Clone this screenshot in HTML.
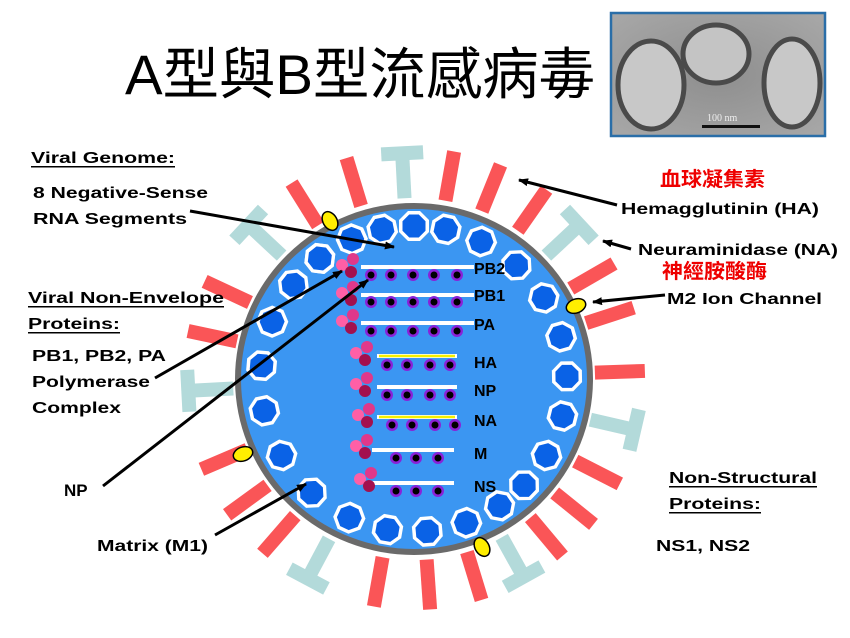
<!DOCTYPE html>
<html><head><meta charset="utf-8"><style>
html,body{margin:0;padding:0;background:#fff;}
svg{display:block}
text{font-family:"Liberation Sans",Arial,sans-serif;font-weight:bold;fill:#000}
.cjk{font-family:"Liberation Sans","Noto Sans CJK TC",sans-serif;}
</style></head><body>
<svg width="850" height="638" viewBox="0 0 850 638" xmlns="http://www.w3.org/2000/svg">
<defs>
  <g id="red"><rect x="407" y="148" width="14" height="50" fill="#fa5557"/></g>
  <g id="teal"><rect x="407" y="158" width="14" height="40" fill="#b3dada"/><rect x="393" y="146" width="42" height="14" fill="#b3dada"/></g>
  <g id="oct">
    <polygon points="408,211 420,211 429,220 429,232 420,241 408,241 399,232 399,220" fill="#fff"/>
    <polygon points="409,214 419,214 426,221 426,231 419,238 409,238 402,231 402,221" fill="#0a62e6" stroke="#fff" stroke-width="1"/>
  </g>
  <g id="dot"><circle r="6" fill="#8a22d8"/><circle r="3.5" fill="#000"/></g>
  <g id="cl"><circle cx="-6" cy="0" r="6" fill="#ff5fa6"/><circle cx="5" cy="-6" r="6" fill="#e0388a"/><circle cx="3" cy="7" r="6" fill="#a3104e"/></g>
  <marker id="ah" markerWidth="10" markerHeight="8" refX="9" refY="4" orient="auto" markerUnits="userSpaceOnUse"><path d="M0,0 L10,4 L0,8 Z" fill="#000"/></marker>
  <radialGradient id="pg" cx="50%" cy="50%" r="70%"><stop offset="0" stop-color="#8e8e8e"/><stop offset="1" stop-color="#a8a8a8"/></radialGradient>
</defs>

<text x="125" y="94" class="cjk" style="font-weight:normal;font-size:56px" textLength="470" lengthAdjust="spacingAndGlyphs">A型與B型流感病毒</text>

<rect x="611" y="13" width="214" height="123" fill="url(#pg)" stroke="#2a6ea8" stroke-width="2.5"/>
<ellipse cx="651" cy="85" rx="33" ry="44" fill="#c8c8c8" stroke="#4a4a4a" stroke-width="5"/>
<ellipse cx="716" cy="54" rx="33" ry="29" fill="#c4c4c4" stroke="#4a4a4a" stroke-width="5"/>
<ellipse cx="792" cy="83" rx="28" ry="44" fill="#c8c8c8" stroke="#4a4a4a" stroke-width="5"/>
<text x="707" y="121" style="font-family:'Liberation Serif',serif;font-weight:normal;font-size:10px;fill:#eee">100 nm</text>
<rect x="702" y="125" width="58" height="3" fill="#111"/>

<g>
<use href="#teal" transform="rotate(-3 414 379)"/>
<use href="#teal" transform="rotate(47 414 379)"/>
<use href="#teal" transform="rotate(103 414 379)"/>
<use href="#teal" transform="rotate(151 414 379)"/>
<use href="#teal" transform="rotate(208 414 379)"/>
<use href="#teal" transform="rotate(267 414 379)"/>
<use href="#teal" transform="rotate(313 414 379)"/>
<use href="#red" transform="rotate(-17 414 379)"/>
<use href="#red" transform="rotate(-32 414 379)"/>
<use href="#red" transform="rotate(10 414 379)"/>
<use href="#red" transform="rotate(22 414 379)"/>
<use href="#red" transform="rotate(35 414 379)"/>
<use href="#red" transform="rotate(60 414 379)"/>
<use href="#red" transform="rotate(72 414 379)"/>
<use href="#red" transform="rotate(88 414 379)"/>
<use href="#red" transform="rotate(117 414 379)"/>
<use href="#red" transform="rotate(129 414 379)"/>
<use href="#red" transform="rotate(140 414 379)"/>
<use href="#red" transform="rotate(163 414 379)"/>
<use href="#red" transform="rotate(176 414 379)"/>
<use href="#red" transform="rotate(190 414 379)"/>
<use href="#red" transform="rotate(221 414 379)"/>
<use href="#red" transform="rotate(234 414 379)"/>
<use href="#red" transform="rotate(247 414 379)"/>
<use href="#red" transform="rotate(282 414 379)"/>
<use href="#red" transform="rotate(295 414 379)"/>
</g>

<ellipse cx="414" cy="379" rx="176" ry="173" fill="#3b96f2" stroke="#6a6a6a" stroke-width="6"/>

<g>
<use href="#oct" transform="rotate(-38 414 379)"/>
<use href="#oct" transform="rotate(-24 414 379)"/>
<use href="#oct" transform="rotate(-12 414 379)"/>
<use href="#oct" transform="rotate(0 414 379)"/>
<use href="#oct" transform="rotate(12 414 379)"/>
<use href="#oct" transform="rotate(26 414 379)"/>
<use href="#oct" transform="rotate(42 414 379)"/>
<use href="#oct" transform="rotate(58 414 379)"/>
<use href="#oct" transform="rotate(74 414 379)"/>
<use href="#oct" transform="rotate(89 414 379)"/>
<use href="#oct" transform="rotate(104 414 379)"/>
<use href="#oct" transform="rotate(120 414 379)"/>
<use href="#oct" transform="rotate(134 414 379)"/>
<use href="#oct" transform="rotate(146 414 379)"/>
<use href="#oct" transform="rotate(160 414 379)"/>
<use href="#oct" transform="rotate(175 414 379)"/>
<use href="#oct" transform="rotate(190 414 379)"/>
<use href="#oct" transform="rotate(205 414 379)"/>
<use href="#oct" transform="rotate(222 414 379)"/>
<use href="#oct" transform="rotate(240 414 379)"/>
<use href="#oct" transform="rotate(258 414 379)"/>
<use href="#oct" transform="rotate(275 414 379)"/>
<use href="#oct" transform="rotate(292 414 379)"/>
<use href="#oct" transform="rotate(308 414 379)"/>
<use href="#oct" transform="rotate(322 414 379)"/>
</g>

<g fill="#ffee00" stroke="#000" stroke-width="1.5">
<ellipse cx="330" cy="221" rx="7" ry="10" transform="rotate(-30 330 221)"/>
<ellipse cx="576" cy="306" rx="10" ry="7" transform="rotate(-20 576 306)"/>
<ellipse cx="243" cy="454" rx="10" ry="7" transform="rotate(-20 243 454)"/>
<ellipse cx="482" cy="547" rx="7" ry="10" transform="rotate(-30 482 547)"/>
</g>

<g stroke-width="4">
<line x1="361" y1="267" x2="474" y2="267" stroke="#fff"/>
<line x1="361" y1="295" x2="474" y2="295" stroke="#fff"/>
<line x1="361" y1="323" x2="474" y2="323" stroke="#fff"/>
<line x1="377" y1="356" x2="457" y2="356" stroke="#fff"/>
<line x1="379" y1="356" x2="455" y2="356" stroke="#f4f000" stroke-width="2.5"/>
<line x1="377" y1="387" x2="457" y2="387" stroke="#fff"/>
<line x1="377" y1="417" x2="457" y2="417" stroke="#fff"/>
<line x1="379" y1="417" x2="455" y2="417" stroke="#f4f000" stroke-width="2.5"/>
<line x1="372" y1="450" x2="454" y2="450" stroke="#fff"/>
<line x1="372" y1="483" x2="454" y2="483" stroke="#fff"/>
</g>
<g>
<use href="#dot" x="371" y="275"/><use href="#dot" x="391" y="275"/><use href="#dot" x="413" y="275"/><use href="#dot" x="434" y="275"/><use href="#dot" x="457" y="275"/>
<use href="#dot" x="371" y="302"/><use href="#dot" x="391" y="302"/><use href="#dot" x="413" y="302"/><use href="#dot" x="434" y="302"/><use href="#dot" x="457" y="302"/>
<use href="#dot" x="371" y="331"/><use href="#dot" x="391" y="331"/><use href="#dot" x="413" y="331"/><use href="#dot" x="434" y="331"/><use href="#dot" x="457" y="331"/>
<use href="#dot" x="387" y="365"/><use href="#dot" x="407" y="365"/><use href="#dot" x="430" y="365"/><use href="#dot" x="450" y="365"/>
<use href="#dot" x="387" y="395"/><use href="#dot" x="407" y="395"/><use href="#dot" x="430" y="395"/><use href="#dot" x="450" y="395"/>
<use href="#dot" x="392" y="425"/><use href="#dot" x="412" y="425"/><use href="#dot" x="435" y="425"/><use href="#dot" x="455" y="425"/>
<use href="#dot" x="396" y="458"/><use href="#dot" x="416" y="458"/><use href="#dot" x="438" y="458"/>
<use href="#dot" x="396" y="491"/><use href="#dot" x="416" y="491"/><use href="#dot" x="438" y="491"/>
</g>
<g>
<use href="#cl" x="348" y="265"/><use href="#cl" x="348" y="293"/><use href="#cl" x="348" y="321"/>
<use href="#cl" x="362" y="353"/><use href="#cl" x="362" y="384"/><use href="#cl" x="364" y="415"/>
<use href="#cl" x="362" y="446"/><use href="#cl" x="366" y="479"/>
</g>
<g style="font-size:16px">
<text x="474" y="274">PB2</text>
<text x="474" y="301">PB1</text>
<text x="474" y="330">PA</text>
<text x="474" y="368">HA</text>
<text x="474" y="396">NP</text>
<text x="474" y="426">NA</text>
<text x="474" y="459">M</text>
<text x="474" y="492">NS</text>
</g>

<g stroke="#000" stroke-width="3" marker-end="url(#ah)">
<line x1="190" y1="211" x2="394" y2="247"/>
<line x1="155" y1="378" x2="342" y2="271"/>
<line x1="103" y1="486" x2="368" y2="280"/>
<line x1="215" y1="535" x2="306" y2="484"/>
<line x1="617" y1="205" x2="519" y2="180"/>
<line x1="631" y1="249" x2="603" y2="241"/>
<line x1="665" y1="295" x2="593" y2="302"/>
</g>

<g style="font-size:16px">
<text x="31" y="163" textLength="144" lengthAdjust="spacingAndGlyphs">Viral Genome:</text>
<rect x="31" y="166" width="144" height="1.5" fill="#000"/>
<text x="33" y="198" textLength="175" lengthAdjust="spacingAndGlyphs">8 Negative-Sense</text>
<text x="33" y="224" textLength="154" lengthAdjust="spacingAndGlyphs">RNA Segments</text>
<text x="28" y="303" textLength="196" lengthAdjust="spacingAndGlyphs">Viral Non-Envelope</text>
<rect x="28" y="306" width="196" height="1.5" fill="#000"/>
<text x="28" y="329" textLength="92" lengthAdjust="spacingAndGlyphs">Proteins:</text>
<rect x="28" y="332" width="92" height="1.5" fill="#000"/>
<text x="32" y="361" textLength="134" lengthAdjust="spacingAndGlyphs">PB1, PB2, PA</text>
<text x="32" y="387" textLength="118" lengthAdjust="spacingAndGlyphs">Polymerase</text>
<text x="32" y="413" textLength="89" lengthAdjust="spacingAndGlyphs">Complex</text>
<text x="64" y="496" style="font-size:17px">NP</text>
<text x="97" y="551" textLength="111" lengthAdjust="spacingAndGlyphs">Matrix (M1)</text>
<text x="621" y="214" textLength="198" lengthAdjust="spacingAndGlyphs">Hemagglutinin (HA)</text>
<text x="638" y="255" textLength="200" lengthAdjust="spacingAndGlyphs">Neuraminidase (NA)</text>
<text x="667" y="304" textLength="155" lengthAdjust="spacingAndGlyphs">M2 Ion Channel</text>
<text x="669" y="483" textLength="148" lengthAdjust="spacingAndGlyphs">Non-Structural</text>
<rect x="669" y="486" width="148" height="1.5" fill="#000"/>
<text x="669" y="509" textLength="92" lengthAdjust="spacingAndGlyphs">Proteins:</text>
<rect x="669" y="512" width="92" height="1.5" fill="#000"/>
<text x="656" y="551" textLength="94" lengthAdjust="spacingAndGlyphs">NS1, NS2</text>
</g>
<text x="660" y="186" class="cjk" style="font-size:20px;fill:#ee0000" textLength="105" lengthAdjust="spacingAndGlyphs">血球凝集素</text>
<text x="662" y="278" class="cjk" style="font-size:20px;fill:#ee0000" textLength="105" lengthAdjust="spacingAndGlyphs">神經胺酸酶</text>
</svg>
</body></html>
